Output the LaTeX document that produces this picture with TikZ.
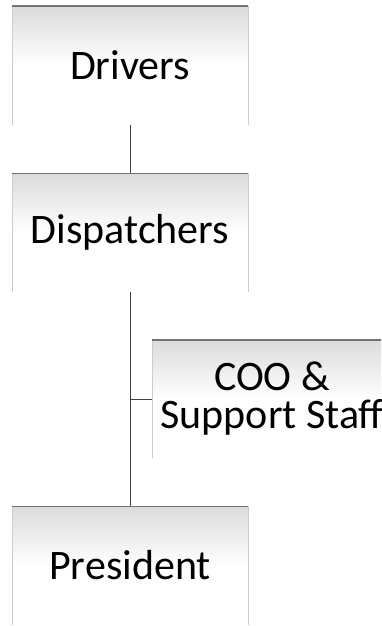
\documentclass[tikz,border=0pt]{standalone}
\usepackage{fontspec}
\setmainfont{Carlito}
\usetikzlibrary{positioning,calc}
\tikzset{
  unit/.style = {rectangle, bottom color=white, top color=black!14, middle color=white,
                 align=center, inner sep=2pt, minimum width=236pt,
                 minimum height=118pt, font=\fontsize{42}{38}\selectfont},
  link/.style = {black!75, line width=1pt},
}

\begin{document}
\begin{tikzpicture}[x=1pt, y=1pt]
    \clip (0,0) rectangle (381,-626);
    \useasboundingbox (0,0) rectangle (381,-626);

    % boxes
    \node[unit] (drivers)  at (130,-65.5)  {Drivers};
    \node[unit] (dispatch) at (130,-232.5) {Dispatchers};
    \node[unit, minimum width=239pt] (coo) at (272,-399) {COO \&\\Support Staff};
    \node[unit] (pres)     at (130,-565.5) {President};

    % soft edges
    \foreach \n in {drivers,dispatch,coo,pres} {
        \draw[black!20] (\n.south west) -- (\n.north west);
        \draw[black!20] (\n.south east) -- (\n.north east);
        \draw[black!55, line width=1.6pt] (\n.north west) -- (\n.north east);
    }

    % connectors
    \draw[link] (drivers.south) -- (dispatch.north);
    \draw[link] (dispatch.south) -- (pres.north);
    \coordinate (tee) at (dispatch.south |- coo.west);
    \draw[link] (tee) -- (coo.west);
\end{tikzpicture}
\end{document}
